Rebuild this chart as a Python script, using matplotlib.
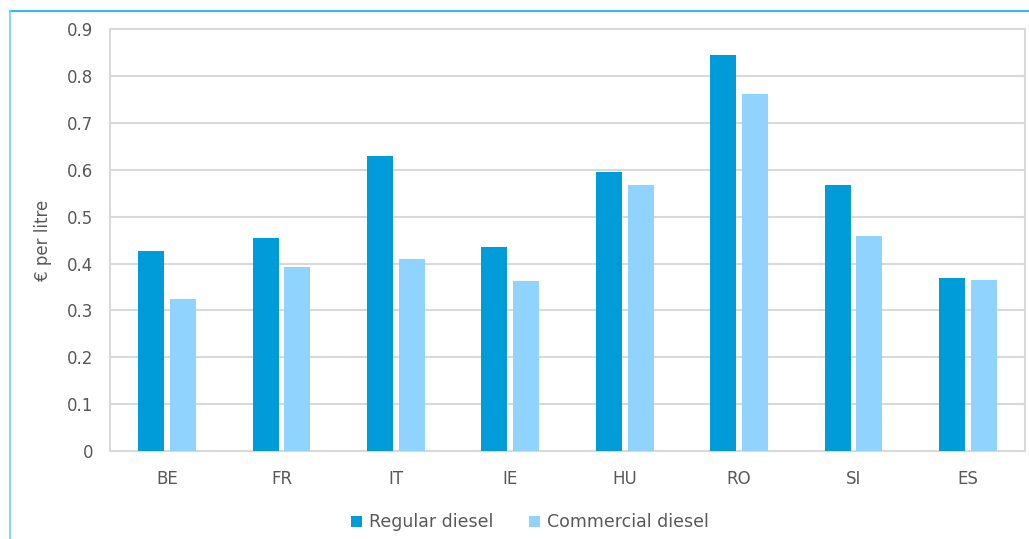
import matplotlib.pyplot as plt
import numpy as np
from matplotlib.lines import Line2D

# Diesel excise comparison, regular vs commercial
countries = ["BE", "FR", "IT", "IE", "HU", "RO", "SI", "ES"]
regular = [0.427, 0.455, 0.630, 0.435, 0.596, 0.845, 0.567, 0.369]
commercial = [0.324, 0.392, 0.409, 0.363, 0.567, 0.762, 0.459, 0.365]

c_regular = "#009bd9"
c_commercial = "#8fd3fe"
grid_col = "#d9d9d9"
text_col = "#595959"
fs = 12

plt.rcParams["font.family"] = ["DejaVu Sans"]

fig = plt.figure(figsize=(10.29, 5.39), dpi=100)
ax = fig.add_axes([0.1069, 0.1633, 0.8892, 0.7823])

x = np.arange(len(countries))
w = 0.227
off = 0.139
ax.bar(x - off, regular, w, color=c_regular, label="Regular diesel", zorder=3)
ax.bar(x + off, commercial, w, color=c_commercial, label="Commercial diesel", zorder=3)

ax.set_xlim(-0.5, len(countries) - 0.5)
ax.set_ylim(0, 0.9)
ax.set_yticks(np.arange(0, 0.91, 0.1))
ax.set_yticklabels(["0"] + [f"{v:.1f}" for v in np.arange(0.1, 0.91, 0.1)])
ax.set_xticks(x)
ax.set_xticklabels(countries)
ax.tick_params(length=0, labelsize=fs, colors=text_col)
ax.tick_params(axis="y", pad=12)
ax.tick_params(axis="x", pad=14)

ax.yaxis.grid(True, color=grid_col, linewidth=1.5, zorder=0)
for s in ax.spines.values():
    s.set_color(grid_col)
    s.set_linewidth(1.5)

ax.set_ylabel("€ per litre", fontsize=fs, color=text_col, labelpad=11)

# legend below the chart
fig.legend(loc="center", bbox_to_anchor=(0.515, 0.031), ncol=2, frameon=False,
           fontsize=12.5, labelcolor=text_col, handlelength=0.6, handleheight=0.6,
           handletextpad=0.4, columnspacing=2.1)

# frame lines on top and left of the figure
fig.add_artist(Line2D([10 / 1029, 1], [1 - 10.5 / 539, 1 - 10.5 / 539],
                      transform=fig.transFigure, color="#00b0f0", linewidth=1.2))
fig.add_artist(Line2D([10 / 1029, 10 / 1029], [0, 1 - 10.5 / 539],
                      transform=fig.transFigure, color="#6fcdf2", linewidth=1.2))

fig.savefig("out.png", dpi=100)
